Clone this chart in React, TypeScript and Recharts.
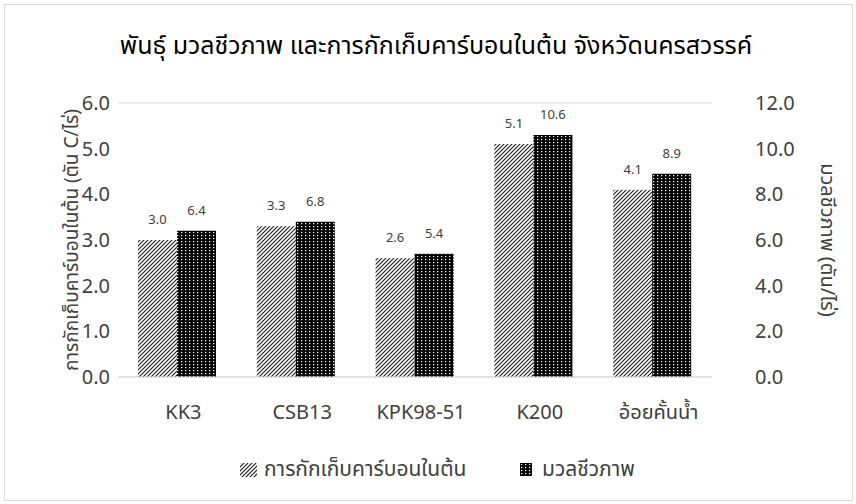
import React from "react";
import { BarChart, Bar, XAxis, YAxis, CartesianGrid, LabelList, Label } from "recharts";

const varieties = ["KK3", "CSB13", "KPK98-51", "K200", "อ้อยคั้นน้ำ"];
const carbon = [3.0, 3.3, 2.6, 5.1, 4.1];
const biomass = [6.4, 6.8, 5.4, 10.6, 8.9];
const leftTicks = [0, 1, 2, 3, 4, 5, 6];
const rightTicks = [0, 2, 4, 6, 8, 10, 12];

const title = "พันธุ์ มวลชีวภาพ และการกักเก็บคาร์บอนในต้น จังหวัดนครสวรรค์";
const carbonName = "การกักเก็บคาร์บอนในต้น";
const biomassName = "มวลชีวภาพ";
const leftTitle = "การกักเก็บคาร์บอนในต้น (ตัน C/ไร่)";
const rightTitle = "มวลชีวภาพ (ตัน/ไร่)";

const data = varieties.map((name, i) => ({ name, carbon: carbon[i], biomass: biomass[i] }));

const FONT = "Tahoma, 'Noto Sans Thai', 'Noto Sans', 'DejaVu Sans', sans-serif";
const TEXT = "#595959";
const DARK = "#404040";

function Patterns() {
  return (
    <defs>
      <pattern id="hatch" width="4" height="4" patternUnits="userSpaceOnUse">
        <rect width="4" height="4" fill="#fff" />
        <path d="M-1,1 l2,-2 M0,4 l4,-4 M3,5 l2,-2" stroke="#1a1a1a" strokeWidth="1.1" />
      </pattern>
      <pattern id="dots" width="4" height="3" patternUnits="userSpaceOnUse">
        <rect width="4" height="3" fill="#000" />
        <rect x="1" y="1" width="1.3" height="1.2" fill="#fff" />
      </pattern>
    </defs>
  );
}

const fmt = (v: number) => v.toFixed(1);

export default function App() {
  return (
    <div style={{ position: "absolute", left: 0, top: 0, width: 856, height: 504, background: "#fff", fontFamily: FONT }}>
      <div style={{ position: "absolute", left: 4, top: 4, width: 847, height: 495, border: "1px solid #d9d9d9" }} />
      <div style={{ position: "absolute", left: 0, width: 872, top: 27, textAlign: "center", fontSize: 25, color: "#000" }}>
        {title}
      </div>
      <BarChart
        width={856}
        height={504}
        data={data}
        margin={{ top: 103, right: 84, bottom: 87, left: 50 }}
        barSize={39}
        barGap={0}
        style={{ position: "absolute", left: 0, top: 0 }}
      >
        <Patterns />
        <CartesianGrid vertical={false} stroke="#d9d9d9" />
        <XAxis
          dataKey="name"
          height={40}
          tickLine={false}
          tickSize={0}
          tickMargin={28}
          axisLine={{ stroke: "#d9d9d9" }}
          tick={{ fill: DARK, fontSize: 20, fontFamily: FONT, dx: 6 }}
        />
        <YAxis
          yAxisId="left"
          orientation="left"
          width={68}
          domain={[0, 6]}
          ticks={leftTicks}
          tickFormatter={fmt}
          axisLine={false}
          tickLine={false}
          tickSize={0}
          tickMargin={8}
          tick={{ fill: DARK, fontSize: 20, fontFamily: FONT }}
        >
          <Label value={leftTitle} angle={-90} position="center" dx={-13} style={{ fill: DARK, fontSize: 19, fontFamily: FONT, textAnchor: "middle" }} />
        </YAxis>
        <YAxis
          yAxisId="right"
          orientation="right"
          width={60}
          domain={[0, 12]}
          ticks={rightTicks}
          tickFormatter={fmt}
          axisLine={false}
          tickLine={false}
          tickSize={0}
          tickMargin={43}
          tick={{ fill: DARK, fontSize: 20, fontFamily: FONT }}
        >
          <Label value={rightTitle} angle={90} position="center" dx={86} style={{ fill: DARK, fontSize: 20, fontFamily: FONT, textAnchor: "middle" }} />
        </YAxis>
        <Bar yAxisId="left" dataKey="carbon" name={carbonName} fill="url(#hatch)" isAnimationActive={false}>
          <LabelList dataKey="carbon" position="top" offset={16} formatter={(v: number) => fmt(v)} style={{ fill: DARK, fontSize: 13, fontFamily: FONT }} />
        </Bar>
        <Bar yAxisId="right" dataKey="biomass" name={biomassName} fill="url(#dots)" isAnimationActive={false}>
          <LabelList dataKey="biomass" position="top" offset={16} formatter={(v: number) => fmt(v)} style={{ fill: DARK, fontSize: 13, fontFamily: FONT }} />
        </Bar>
      </BarChart>
      <div style={{ position: "absolute", left: 240, top: 454, display: "flex", alignItems: "center", fontSize: 21, color: DARK }}>
        <svg width={17} height={14} style={{ marginRight: 7 }}>
          <Patterns />
          <rect width={17} height={14} fill="url(#hatch)" />
        </svg>
        <span>{carbonName}</span>
      </div>
      <div style={{ position: "absolute", left: 520, top: 454, display: "flex", alignItems: "center", fontSize: 21, color: DARK }}>
        <svg width={12} height={13} style={{ marginRight: 10 }}>
          <rect width={12} height={13} fill="url(#dots)" />
        </svg>
        <span>{biomassName}</span>
      </div>
    </div>
  );
}
